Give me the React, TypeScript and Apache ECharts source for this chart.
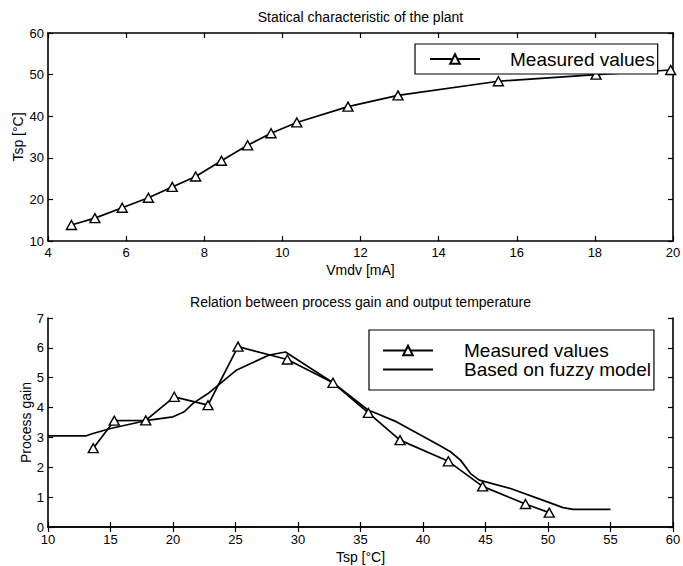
import React, { useEffect, useRef } from "react";
import * as echarts from "echarts";

// Top plot: statical characteristic
const plantVmdv = [4.6, 5.2, 5.9, 6.57, 7.18, 7.78, 8.44, 9.11, 9.71, 10.37, 11.68, 12.96, 15.53, 18.03, 19.94];
const plantTsp = [13.85, 15.5, 18.0, 20.4, 23.0, 25.5, 29.3, 33.0, 35.9, 38.5, 42.3, 45.0, 48.4, 50.0, 51.1];

// Bottom plot: measured process gain
const gainTsp = [13.62, 15.3, 17.82, 20.1, 22.8, 25.2, 29.15, 32.8, 35.63, 38.16, 42.03, 44.77, 48.2, 50.1];
const gainMeasured = [2.64, 3.56, 3.57, 4.36, 4.08, 6.04, 5.61, 4.83, 3.82, 2.91, 2.2, 1.36, 0.77, 0.48];

// Bottom plot: gain based on fuzzy model
const fuzzyTsp = [10, 13.0, 13.6, 15.0, 17.8, 20.0, 20.9, 21.6, 22.8, 25.1, 27.7, 29.0, 32.8, 35.6, 36.3, 37.9, 39.8, 41.4, 42.2, 43.0, 43.8, 44.5, 47.0, 49.9, 51.2, 52.0, 55.0];
const fuzzyGain = [3.05, 3.05, 3.13, 3.3, 3.56, 3.69, 3.86, 4.14, 4.47, 5.26, 5.76, 5.86, 4.83, 3.92, 3.8, 3.52, 3.08, 2.71, 2.52, 2.24, 1.79, 1.57, 1.29, 0.85, 0.65, 0.59, 0.59];

const titleTop = "Statical characteristic of the plant";
const titleBottom = "Relation between process gain and output temperature";
const legendMeasured = "Measured values";
const legendFuzzy = "Based on fuzzy model";

const FONT = "'Liberation Sans', Arial, Helvetica, sans-serif";

const zip = (xs: number[], ys: number[]) => xs.map((x, i) => [x, ys[i]]);

const axisLine = { show: true, lineStyle: { color: "#000", width: 1.6 } };
const axisTick = { show: true, inside: true, length: 5, lineStyle: { color: "#000", width: 1.2 } };
const label = { color: "#000", fontSize: 13, fontFamily: FONT };
const nameStyle = { color: "#000", fontSize: 14, fontFamily: FONT };

function mainX(grid: number, min: number, max: number, interval: number, name: string, gap: number, margin: number) {
  return {
    gridIndex: grid, type: "value", min, max, interval, position: "bottom",
    name, nameLocation: "middle", nameGap: gap, nameTextStyle: nameStyle, nameMoveOverlap: false,
    axisLine, axisTick, splitLine: { show: false },
    axisLabel: { ...label, margin },
  };
}
function topX(grid: number, min: number, max: number, interval: number, title: string, gap: number) {
  return {
    gridIndex: grid, type: "value", min, max, interval, position: "top",
    name: title, nameLocation: "middle", nameGap: gap, nameTextStyle: nameStyle, nameMoveOverlap: false,
    axisLine, axisTick, splitLine: { show: false }, axisLabel: { show: false },
  };
}
function mainY(grid: number, min: number, max: number, interval: number, name: string, gap: number) {
  return {
    gridIndex: grid, type: "value", min, max, interval, position: "left",
    name, nameLocation: "middle", nameGap: gap, nameTextStyle: nameStyle, nameMoveOverlap: false,
    axisLine, axisTick, splitLine: { show: false },
    axisLabel: { ...label, margin: 4 },
  };
}
function rightY(grid: number, min: number, max: number, interval: number) {
  return {
    gridIndex: grid, type: "value", min, max, interval, position: "right",
    axisLine, axisTick, splitLine: { show: false }, axisLabel: { show: false },
  };
}

const measuredStyle = {
  type: "line",
  symbol: "triangle",
  symbolSize: [10, 9],
  showSymbol: true,
  itemStyle: { color: "#fff", borderColor: "#000", borderWidth: 1.4 },
  lineStyle: { color: "#000", width: 1.7 },
};

const legendBase = {
  orient: "vertical",
  itemWidth: 50, itemHeight: 12, itemGap: 0,
  borderColor: "#000", borderWidth: 1.2, backgroundColor: "#fff",
  selectedMode: false,
};

export default function App() {
  const ref = useRef<HTMLDivElement>(null);
  useEffect(() => {
    if (!ref.current) return;
    const chart = echarts.init(ref.current, undefined, { renderer: "svg" });
    const option: any = {
      animation: false,
      backgroundColor: "#fff",
      grid: [
        { left: 48, right: 10, top: 33, height: 208, outerBoundsMode: "none", containLabel: false },
        { left: 48, right: 10, top: 318, height: 209, outerBoundsMode: "none", containLabel: false },
      ],
      xAxis: [
        mainX(0, 4, 20, 2, "Vmdv [mA]", 22, 5),
        topX(0, 4, 20, 2, titleTop, 9),
        mainX(1, 10, 60, 5, "Tsp [°C]", 23, 6),
        topX(1, 10, 60, 5, titleBottom, 9),
      ],
      yAxis: [
        mainY(0, 10, 60, 10, "Tsp [°C]", 23),
        rightY(0, 10, 60, 10),
        mainY(1, 0, 7, 1, "Process gain", 15),
        rightY(1, 0, 7, 1),
      ],
      legend: [
        {
          ...legendBase,
          data: [legendMeasured],
          left: 415, top: 44,
          padding: [4, 3, 4, 14],
          textStyle: { color: "#000", fontSize: 19, fontFamily: FONT, lineHeight: 22, padding: [0, 0, 0, 25] },
        },
        {
          ...legendBase,
          data: [
            legendMeasured,
            { name: legendFuzzy, itemStyle: { opacity: 0, borderWidth: 0, color: "transparent" } },
          ],
          left: 369, top: 330,
          padding: [11, 3, 11, 13],
          textStyle: { color: "#000", fontSize: 19, fontFamily: FONT, lineHeight: 18, padding: [0, 0, 0, 26] },
        },
      ],
      series: [
        { ...measuredStyle, name: legendMeasured, xAxisIndex: 0, yAxisIndex: 0, data: zip(plantVmdv, plantTsp) },
        { ...measuredStyle, name: legendMeasured, xAxisIndex: 2, yAxisIndex: 2, data: zip(gainTsp, gainMeasured) },
        {
          type: "line", name: legendFuzzy, xAxisIndex: 2, yAxisIndex: 2,
          symbol: "none", showSymbol: false,
          lineStyle: { color: "#000", width: 1.7 },
          itemStyle: { color: "#000" },
          data: zip(fuzzyTsp, fuzzyGain),
        },
      ],
    };
    chart.setOption(option);
    return () => chart.dispose();
  }, []);
  return (
    <div
      ref={ref}
      style={{ position: "absolute", left: 0, top: 0, width: 683, height: 566, background: "#fff" }}
    />
  );
}
